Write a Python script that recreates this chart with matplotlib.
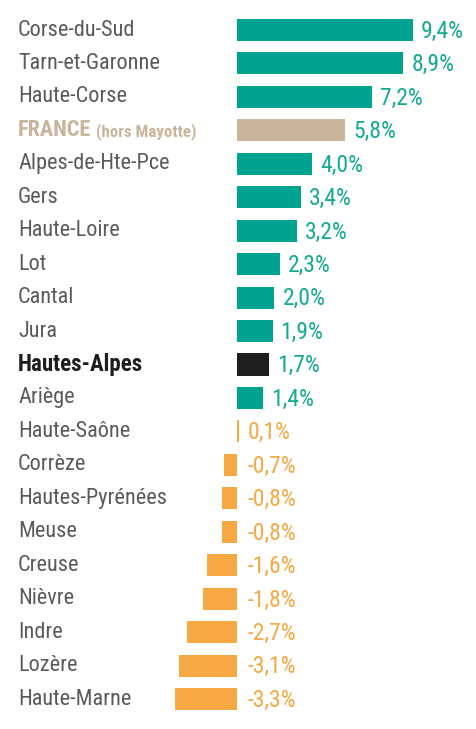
import matplotlib.pyplot as plt
from matplotlib import font_manager

names = ['Corse-du-Sud', 'Tarn-et-Garonne', 'Haute-Corse', 'FRANCE', 'Alpes-de-Hte-Pce',
         'Gers', 'Haute-Loire', 'Lot', 'Cantal', 'Jura', 'Hautes-Alpes', 'Ariège',
         'Haute-Saône', 'Corrèze', 'Hautes-Pyrénées', 'Meuse', 'Creuse', 'Nièvre',
         'Indre', 'Lozère', 'Haute-Marne']
values = [9.4, 8.9, 7.2, 5.8, 4.0, 3.4, 3.2, 2.3, 2.0, 1.9, 1.7, 1.4,
          0.1, -0.7, -0.8, -0.8, -1.6, -1.8, -2.7, -3.1, -3.3]

teal = '#00a38f'
teal_txt = '#14a995'
orange = '#f6a942'
tan = '#c9b59b'
dark = '#1e1e1e'
grey = '#5a5a5a'

avail = {f.name for f in font_manager.fontManager.ttflist}
fam = 'Roboto Condensed' if 'Roboto Condensed' in avail else 'Roboto'
plt.rcParams['font.family'] = [fam, 'DejaVu Sans']

fig = plt.figure(figsize=(4.77, 7.29), dpi=100)
ax = fig.add_axes([0, 0, 1, 1])
scale = 18.7  # px per %
ax.set_xlim(-237 / scale, (477 - 237) / scale)
ax.set_ylim((729 - 30) / 33.45, -30 / 33.45)
ax.axis('off')

fs = 16 if fam == 'Roboto Condensed' else 14
vfs = fs + 1
label_x = -237 / scale + 18 / scale

for i, (n, v) in enumerate(zip(names, values)):
    if n == 'FRANCE':
        c = tan
    elif n == 'Hautes-Alpes':
        c = dark
    elif v > 0.5:
        c = teal
    else:
        c = orange
    ax.barh(i, v, height=0.66, color=c)
    vc = teal_txt if v > 0.5 else orange
    vx = v + 8 / scale if v > 0.5 else 11 / scale
    ax.text(vx, i + 0.04, f'{v:.1f}%'.replace('.', ','), color=vc, fontsize=vfs,
            va='center', ha='left')
    if n == 'FRANCE':
        t = ax.text(label_x, i, 'FRANCE', color=tan, fontsize=fs, fontweight='bold',
                    va='center', ha='left')
        fig.canvas.draw()
        bb = t.get_window_extent()
        x2 = ax.transData.inverted().transform((bb.x1 + 5, 0))[0]
        ax.text(x2, i + 0.05, '(hors Mayotte)', color=tan, fontsize=fs * 0.76,
                fontweight='bold', va='center', ha='left')
    elif n == 'Hautes-Alpes':
        ax.text(label_x, i, n, color=dark, fontsize=fs + 0.5, fontweight='bold',
                va='center', ha='left')
    else:
        ax.text(label_x, i, n, color=grey, fontsize=fs, va='center', ha='left')

fig.savefig('out.png', dpi=100, facecolor='white')
